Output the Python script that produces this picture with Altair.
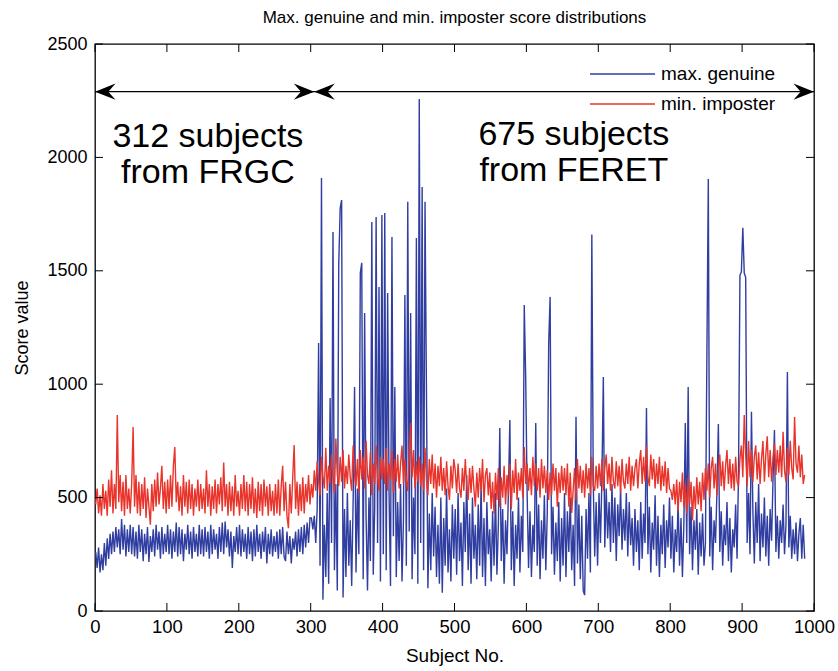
import altair as alt
import pandas as pd

# subjects sampled every other index (1, 3, 5, ..., 987)
subjects = list(range(1, 988, 2))

max_genuine = [
    260, 190, 280, 170, 250, 180, 300, 200, 320, 230, 340, 250, 350, 260, 370, 280, 360, 250, 405, 270, 380, 240, 360, 260, 380,
    250, 370, 240, 350, 230, 380, 260, 360, 220, 340, 250, 370, 216, 330, 260, 360, 240, 380, 270, 350, 230, 370, 250, 340, 260,
    380, 250, 360, 230, 350, 260, 390, 240, 370, 250, 360, 220, 340, 270, 380, 250, 350, 230, 370, 260, 340, 240, 380, 250, 360,
    240, 370, 260, 350, 230, 380, 250, 360, 270, 340, 230, 370, 260, 390, 250, 395, 280, 360, 240, 350, 190, 330, 260, 370, 250,
    380, 240, 360, 260, 340, 230, 370, 250, 350, 220, 360, 240, 380, 260, 340, 230, 350, 260, 370, 210, 340, 250, 360, 240, 330,
    260, 350, 230, 360, 250, 370, 240, 220, 350, 250, 330, 210, 320, 270, 350, 240, 360, 260, 370, 250, 380, 280, 390, 300, 410,
    410, 360, 420, 300, 450, 1182, 200, 1909, 50, 380, 150, 520, 120, 939, 300, 1671, 180, 560, 90, 1526, 1777, 1812, 60, 450, 150,
    520, 200, 400, 110, 480, 988, 170, 540, 250, 1490, 1535, 140, 1314, 420, 90, 500, 220, 1715, 160, 450, 1737, 300, 1429, 130, 1746,
    250, 1755, 180, 1402, 520, 110, 1649, 330, 988, 150, 480, 220, 560, 130, 400, 1393, 200, 1804, 350, 1314, 140, 500, 250, 1645, 120,
    2258, 300, 1870, 180, 1804, 961, 100, 430, 180, 520, 240, 460, 150, 380, 120, 500, 80, 410, 200, 540, 170, 360, 130, 470, 230,
    450, 160, 520, 220, 390, 110, 480, 260, 600, 180, 430, 120, 500, 230, 380, 140, 470, 200, 560, 150, 410, 110, 480, 250, 360,
    130, 440, 200, 520, 160, 380, 807, 220, 450, 120, 400, 250, 530, 842, 180, 440, 110, 380, 230, 500, 170, 420, 260, 1349, 1032,
    520, 190, 440, 150, 380, 260, 829, 200, 470, 140, 400, 230, 510, 180, 430, 1182, 1385, 250, 460, 160, 390, 220, 480, 130, 410,
    200, 520, 150, 440, 260, 500, 180, 380, 110, 856, 210, 470, 140, 420, 90, 70, 450, 230, 520, 170, 1660, 560, 240, 480, 200,
    520, 300, 580, 1032, 280, 540, 320, 480, 260, 560, 300, 500, 220, 470, 330, 540, 270, 450, 310, 520, 240, 480, 290, 410, 200,
    450, 260, 400, 180, 480, 230, 430, 300, 895, 250, 460, 170, 390, 270, 510, 200, 420, 150, 380, 250, 470, 190, 400, 280, 500,
    230, 420, 170, 360, 260, 480, 200, 410, 150, 380, 829, 300, 988, 250, 460, 180, 400, 270, 450, 160, 390, 240, 430, 200, 300,
    1116, 1905, 240, 460, 180, 400, 300, 520, 825, 260, 440, 200, 380, 290, 480, 220, 410, 170, 360, 280, 470, 230, 600, 1480, 1495,
    1690, 1490, 1470, 300, 520, 250, 878, 440, 210, 480, 300, 560, 220, 430, 280, 500, 240, 420, 200, 450, 310, 580, 798, 260, 420,
    230, 400, 300, 470, 250, 380, 1054, 280, 420, 230, 360, 250, 390, 220, 340, 410, 230, 380, 230,
]

min_imposter = [
    470, 540, 430, 510, 420, 560, 450, 530, 420, 580, 460, 620, 430, 560, 450, 864, 480, 600, 440, 570, 420, 600, 450, 540, 430,
    560, 811, 460, 600, 430, 570, 420, 560, 450, 590, 410, 540, 460, 380, 560, 440, 580, 460, 610, 470, 540, 640, 450, 570, 430,
    580, 450, 600, 460, 640, 723, 480, 570, 440, 550, 420, 600, 460, 570, 430, 580, 450, 560, 420, 540, 460, 580, 440, 560, 450,
    540, 430, 620, 460, 560, 420, 550, 450, 580, 430, 560, 470, 590, 440, 655, 460, 560, 420, 570, 440, 550, 420, 600, 460, 530,
    420, 560, 450, 600, 440, 570, 420, 560, 450, 590, 430, 540, 410, 570, 440, 560, 420, 580, 460, 550, 420, 560, 440, 530, 420,
    560, 430, 580, 420, 550, 640, 440, 570, 420, 365, 560, 430, 590, 732, 450, 570, 420, 560, 440, 590, 430, 560, 480, 600, 470,
    560, 500, 620, 530, 660, 570, 510, 680, 590, 540, 720, 530, 640, 560, 690, 590, 520, 760, 600, 550, 680, 570, 710, 540, 640,
    560, 690, 590, 530, 730, 600, 550, 670, 520, 710, 580, 680, 540, 750, 600, 560, 700, 510, 650, 560, 730, 590, 530, 680, 580,
    670, 560, 720, 530, 650, 580, 710, 520, 670, 570, 690, 540, 650, 730, 560, 670, 580, 530, 680, 829, 590, 710, 540, 660, 570,
    680, 550, 650, 530, 720, 580, 510, 670, 560, 690, 540, 650, 500, 640, 550, 680, 530, 630, 510, 660, 550, 490, 640, 540, 670,
    620, 520, 650, 540, 500, 630, 530, 670, 550, 490, 630, 520, 640, 540, 460, 610, 500, 630, 530, 670, 480, 600, 630, 510, 610,
    450, 570, 430, 610, 490, 630, 460, 590, 500, 640, 470, 600, 510, 650, 450, 620, 520, 670, 490, 610, 530, 630, 500, 723, 560,
    650, 530, 630, 510, 680, 550, 650, 530, 630, 500, 670, 540, 640, 520, 620, 490, 610, 510, 650, 530, 630, 460, 610, 520, 640,
    530, 630, 510, 650, 460, 610, 432, 530, 630, 490, 670, 540, 640, 520, 620, 500, 650, 540, 630, 510, 680, 550, 530, 640, 540,
    650, 550, 670, 530, 630, 690, 560, 650, 530, 680, 570, 540, 660, 550, 640, 520, 670, 570, 540, 650, 560, 680, 530, 640, 550,
    630, 670, 540, 650, 710, 560, 680, 570, 730, 590, 550, 690, 580, 670, 540, 650, 560, 680, 530, 640, 550, 660, 520, 630, 540,
    530, 490, 560, 470, 580, 440, 570, 480, 610, 460, 560, 430, 590, 470, 570, 400, 550, 450, 590, 470, 570, 440, 610, 490, 630,
    530, 650, 500, 630, 680, 540, 650, 510, 630, 690, 550, 660, 530, 640, 710, 560, 670, 540, 650, 530, 680, 570, 550, 670, 730,
    590, 864, 690, 550, 750, 590, 710, 570, 680, 730, 580, 700, 560, 670, 750, 570, 690, 770, 590, 710, 570, 680, 740, 600, 710,
    610, 730, 590, 790, 620, 570, 720, 600, 750, 630, 580, 855, 650, 610, 730, 590, 690, 560, 600,
]

assert len(max_genuine) == len(subjects), len(max_genuine)
assert len(min_imposter) == len(subjects), len(min_imposter)

series_names = ["max. genuine", "min. imposter"]
series_colors = ["#2f3ea0", "#e8342a"]

x_ticks = [0, 100, 200, 300, 400, 500, 600, 700, 800, 900, 1000]
y_ticks = [0, 500, 1000, 1500, 2000, 2500]

# annotation data
arrow_y = 2290
arrow_span = [0, 1000]
arrow_heads_left = [0, 305]
arrow_heads_right = [305, 1000]
notes_text = ["312 subjects", "from FRGC", "675 subjects", "from FERET"]
notes_x = [157, 157, 666, 666]
notes_y = [2090, 1930, 2100, 1940]

FONT = "Liberation Sans"
W, H = 719, 567

rows = []
for s, g in zip(subjects, max_genuine):
    rows.append({"x": s, "y": g, "series": series_names[0]})
for s, m in zip(subjects, min_imposter):
    rows.append({"x": s, "y": m, "series": series_names[1]})
df = pd.DataFrame(rows)

xscale = alt.Scale(domain=[0, 1000], nice=False, zero=False)
yscale = alt.Scale(domain=[0, 2500], nice=False)
xaxis = alt.Axis(values=x_ticks, title="Subject No.", tickSize=0, domain=False, grid=False,
                 labelPadding=6, titlePadding=11, format="d", labelFlush=False,
                 labelFont=FONT, labelFontSize=18.5, labelColor="black",
                 titleFont=FONT, titleFontSize=19, titleColor="black", titleFontWeight="normal")
yaxis = alt.Axis(values=y_ticks, title="Score value", tickSize=0, domain=False, grid=False,
                 labelPadding=8, titlePadding=15, format="d", labelFlush=False,
                 labelFont=FONT, labelFontSize=18, labelColor="black",
                 titleFont=FONT, titleFontSize=18, titleColor="black", titleFontWeight="normal")

X = lambda f="x": alt.X(f"{f}:Q", scale=xscale, axis=xaxis)
Y = lambda f="y": alt.Y(f"{f}:Q", scale=yscale, axis=yaxis)

lines = alt.Chart(df).mark_line(strokeWidth=1.4, clip=True).encode(
    x=X(), y=Y(),
    color=alt.Color("series:N", scale=alt.Scale(domain=series_names, range=series_colors), legend=None),
    order=alt.Order("x:Q"),
    detail="series:N",
)

# inward ticks on all four sides
xt_df = pd.DataFrame({"x": x_ticks})
yt_df = pd.DataFrame({"y": y_ticks})
tick_bottom = alt.Chart(xt_df).mark_rule(color="black", strokeWidth=1).encode(
    x=X(), y=alt.value(H), y2=alt.value(H - 8))
tick_top = alt.Chart(xt_df).mark_rule(color="black", strokeWidth=1).encode(
    x=X(), y=alt.value(0), y2=alt.value(8))
tick_left = alt.Chart(yt_df).mark_rule(color="black", strokeWidth=1).encode(
    y=Y(), x=alt.value(0), x2=alt.value(8))
tick_right = alt.Chart(yt_df).mark_rule(color="black", strokeWidth=1).encode(
    y=Y(), x=alt.value(W), x2=alt.value(W - 8))

# arrows
arrow_df = pd.DataFrame({"x": [arrow_span[0]], "x2": [arrow_span[1]], "y": [arrow_y]})
arrow_line = alt.Chart(arrow_df).mark_rule(color="black", strokeWidth=1.3).encode(
    x=X(), x2="x2:Q", y=Y())
left_df = pd.DataFrame({"x": arrow_heads_left, "y": [arrow_y] * len(arrow_heads_left)})
right_df = pd.DataFrame({"x": arrow_heads_right, "y": [arrow_y] * len(arrow_heads_right)})
head_left = alt.Chart(left_df).mark_point(
    shape="M0,0L2,-0.8L1.3,0L2,0.8Z", size=420, filled=True, color="black", opacity=1
).encode(x=X(), y=Y())
head_right = alt.Chart(right_df).mark_point(
    shape="M0,0L-2,-0.8L-1.3,0L-2,0.8Z", size=420, filled=True, color="black", opacity=1
).encode(x=X(), y=Y())

notes_df = pd.DataFrame({"x": notes_x, "y": notes_y, "t": notes_text})
notes = alt.Chart(notes_df).mark_text(
    font=FONT, fontSize=34, color="black", align="center", baseline="middle"
).encode(x=X(), y=Y(), text="t:N")

# legend (drawn inside the plot, top right)
leg_df = pd.DataFrame({"series": series_names, "ly": [30, 60]})
leg_lines = alt.Chart(leg_df).mark_rule(strokeWidth=1.5).encode(
    x=alt.value(495), x2=alt.value(560), y=alt.Y("ly:Q", scale=None),
    color=alt.Color("series:N", scale=alt.Scale(domain=series_names, range=series_colors), legend=None),
)
leg_text = alt.Chart(leg_df).mark_text(
    font=FONT, fontSize=19, color="black", align="left", baseline="middle"
).encode(x=alt.value(566), y=alt.Y("ly:Q", scale=None), text="series:N")

chart = alt.layer(
    lines, tick_bottom, tick_top, tick_left, tick_right,
    arrow_line, head_left, head_right, notes, leg_lines, leg_text,
).properties(
    width=W, height=H,
    background="white",
    title=alt.Title("Max. genuine and min. imposter score distributions",
                    font=FONT, fontSize=17, fontWeight="normal", color="black",
                    anchor="middle", offset=8),
    autosize=alt.AutoSizeParams(type="none"),
    padding={"left": 95, "top": 44, "right": 24, "bottom": 60},
).configure_view(
    stroke="black", strokeWidth=1.3
)

chart.save("out.html", embed_options={"renderer": "svg", "actions": False})
